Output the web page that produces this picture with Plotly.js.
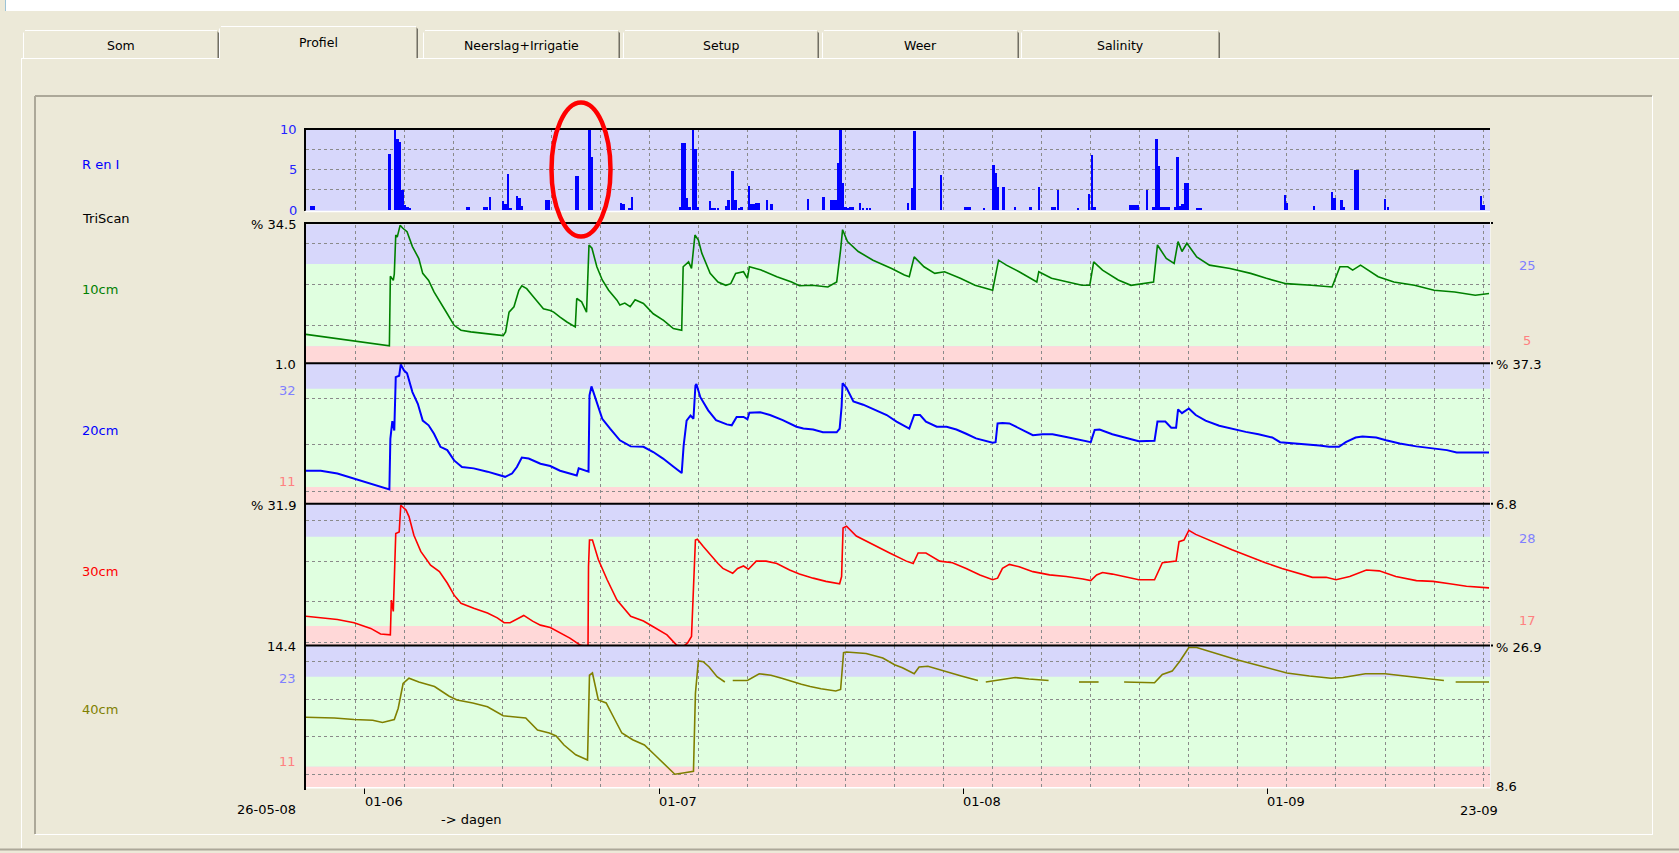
<!DOCTYPE html>
<html>
<head>
<meta charset="utf-8">
<script src="https://cdn.plot.ly/plotly-3.0.1.min.js"></script>
<style>
html,body{margin:0;padding:0;background:#ece9d8;overflow:hidden;}
#chart{width:1679px;height:853px;}
</style>
</head>
<body>
<div id="chart"></div>
<script>
// ================= DATA =================
const startDate = '2008-05-26';
const monthTicks = ['2008-06-01', '2008-07-01', '2008-08-01', '2008-09-01'];
const monthLabels = ['01-06', '01-07', '01-08', '01-09'];
const startLabel = '26-05-08';
const endLabel = '23-09';
const xAxisTitle = '-> dagen';
const tabNames = ['Som', 'Profiel', 'Neerslag+Irrigatie', 'Setup', 'Weer', 'Salinity'];

const rainTitle = 'R en I';
const triscanTitle = 'TriScan';
const rainTickVals = [0, 5, 10];
const rainTickText = ['0', '5', '10'];

// rain + irrigation: day offset from 26-05-08, amount (mm)
const rainDays = [
  0.5, 0.75,
  8.5,
  9.1, 9.35, 9.6, 9.85, 10.1, 10.35, 10.6,
  16.4, 16.6,
  18.2, 18.45, 18.75,
  20.1, 20.35, 20.6, 20.85,
  21.5, 21.75, 22.0,
  24.5, 24.75,
  27.5, 27.75,
  28.9, 29.15,
  32.1, 32.35,
  33.0, 33.25,
  38.1, 38.35, 38.6, 38.85, 39.1, 39.45, 39.7, 39.95,
  41.2, 41.45, 41.7, 42.0,
  42.8, 43.05, 43.5, 43.8,
  44.2, 44.4,
  45.15, 45.4, 45.65, 45.9, 46.15,
  47.0, 47.45,
  51.15,
  52.75,
  53.5, 53.75, 54.0, 54.25, 54.5, 54.75, 55.0, 55.25, 55.5, 55.75,
  56.45, 56.8,
  57.2, 57.5,
  61.35, 61.75, 62.05,
  64.75,
  67.2, 67.45, 67.7,
  69.1,
  70.1, 70.3, 70.55,
  71.1,
  72.3,
  73.85,
  74.75,
  76.1, 76.35, 76.65,
  78.7,
  79.8, 80.15, 80.4,
  84.0, 84.25, 84.5, 84.75,
  85.75,
  86.4, 86.7, 86.95, 87.2, 87.45, 87.7, 87.95,
  88.6, 88.85, 89.1, 89.35, 89.6, 89.85,
  90.9, 91.2,
  99.8, 100.0,
  102.75,
  104.6, 104.85,
  105.55, 105.75,
  107.0, 107.2,
  110.0, 110.3,
  119.8, 120.05
];
const rainMm = [
  0.5, 0.5,
  7.0,
  10, 8.8, 8.5, 2.5, 0.6, 0.4, 0.3,
  0.4, 0.4,
  0.4, 0.4, 1.6,
  1.1, 0.8, 4.5, 0.3,
  1.7, 1.5, 0.5,
  1.3, 1.3,
  4.2, 4.2,
  10, 6.6,
  0.9, 0.7,
  0.2, 1.6,
  0.4, 8.3, 8.3, 1.5, 0.4, 10, 7.6, 0.4,
  1.15, 0.3, 0.3, 0.3,
  0.5, 1.2, 4.9, 1.2,
  0.3, 0.4,
  2.95, 0.7, 0.7, 0.9, 0.9,
  1.2, 0.7,
  1.4,
  1.6,
  1.3, 1.3, 1.3, 5.8, 10, 3.3, 0.4, 0.3, 0.4, 0.4,
  0.9, 0.3,
  0.3, 0.3,
  0.9, 2.75, 9.8,
  4.3,
  0.4, 0.4, 0.4,
  0.3,
  5.6, 4.6, 2.9,
  2.9,
  0.4,
  0.4,
  2.9,
  0.4, 0.4, 2.5,
  0.3,
  2.0, 6.8, 0.4,
  0.6, 0.6, 0.6, 0.6,
  2.5,
  0.4, 8.8, 5.5, 0.4, 0.4, 0.4, 0.4,
  0.4, 6.6, 0.5, 0.7, 3.4, 3.4,
  0.3, 0.3,
  1.9, 0.9,
  0.5,
  2.3, 1.5,
  1.3, 0.4,
  5.0, 5.0,
  1.4, 0.4,
  1.7, 0.6
];

// soil moisture (%) per depth: [day offset, value]
const s10 = [[0,7.9],[4,6.6],[8.5,5.1],[8.6,22.0],[8.9,21.0],[9.0,22.5],[9.15,32.0],[9.3,31.5],[9.6,34.4],[9.85,33.7],[10.3,32.8],[10.85,29.2],[11.5,26.3],[11.9,22.7],[12.5,21.0],[13.05,18.2],[13.7,15.8],[14.4,12.9],[15.1,10.1],[15.8,8.9],[16.8,8.5],[18.5,8.0],[20.1,7.6],[20.35,8.5],[20.7,13.3],[21.2,14.6],[21.7,18.6],[22.0,19.7],[22.5,19.0],[23.05,17.4],[23.7,15.4],[24.2,14.1],[24.9,13.7],[25.25,13.3],[25.9,12.1],[26.6,10.9],[27.45,9.7],[27.6,16.6],[28.1,15.8],[28.6,13.3],[28.85,29.6],[29.15,28.8],[29.65,24.3],[30.2,21.1],[30.85,18.6],[31.7,16.2],[32.0,15.0],[32.5,15.5],[33.05,14.6],[33.55,16.3],[34.4,15.4],[35.4,12.9],[36.45,11.3],[37.45,9.3],[38.3,8.9],[38.45,24.3],[39.0,25.5],[39.3,23.9],[39.65,32.0],[40.0,30.8],[40.35,27.6],[41.2,22.7],[42.0,20.6],[42.8,19.8],[43.3,20.2],[43.8,22.7],[44.6,23.1],[45.0,21.5],[45.2,24.3],[46.4,23.5],[48.0,21.9],[49.5,20.6],[50.3,19.7],[51.6,19.8],[53.2,19.4],[54.1,20.6],[54.5,28.4],[54.7,33.3],[55.2,30.4],[56.3,28.0],[57.8,25.9],[59.7,23.9],[61.0,22.3],[61.5,21.9],[62.0,26.7],[63.0,24.3],[64.1,22.7],[65.1,23.1],[66.7,21.5],[68.2,19.8],[70.0,18.6],[70.6,25.9],[71.4,24.7],[72.7,23.1],[74.5,20.6],[74.7,23.1],[76.0,21.5],[77.6,20.6],[79.1,19.8],[79.9,19.8],[80.3,25.5],[81.2,23.5],[82.8,21.1],[84.1,19.8],[85.4,20.2],[86.4,20.6],[86.8,29.6],[87.7,26.3],[88.5,25.1],[88.9,30.4],[89.3,28.0],[89.8,30.0],[90.8,26.7],[92.1,24.7],[94.2,23.9],[96.3,22.7],[97.9,21.5],[99.9,20.2],[102.5,19.8],[104.6,19.4],[105.4,24.3],[106.2,24.3],[106.7,23.5],[107.5,24.7],[109.3,21.9],[110.9,20.6],[113.0,19.8],[115.0,18.6],[117.1,18.2],[119.2,17.4],[120.6,17.8]];

const s20 = [[0,14.5],[1.5,14.5],[3.2,13.9],[4.9,12.8],[6.6,11.8],[8.5,10.5],[8.6,21.3],[8.8,25.1],[9.0,23.1],[9.15,34.5],[9.5,34.8],[9.66,37.2],[10.0,35.9],[10.3,35.3],[10.85,31.3],[11.4,28.8],[11.9,25.2],[12.5,24.2],[13.05,22.4],[13.7,19.6],[14.4,18.9],[15.1,16.7],[15.9,15.3],[17.1,15.0],[18.5,14.3],[19.8,13.5],[20.3,13.2],[21.0,13.9],[21.5,15.3],[22.0,17.3],[22.7,17.1],[23.9,16.0],[24.9,15.5],[25.9,14.5],[26.8,13.9],[27.6,13.5],[27.8,15.0],[28.8,14.3],[28.9,30.6],[29.1,32.5],[29.3,31.3],[30.2,25.6],[31.0,23.5],[32.0,21.0],[33.1,19.7],[34.4,19.6],[35.4,18.5],[36.4,17.1],[37.5,15.3],[38.3,14.0],[38.5,19.9],[38.8,25.2],[39.2,26.3],[39.5,25.6],[39.7,32.7],[39.8,33.0],[40.2,30.2],[41.0,27.4],[41.8,25.3],[42.9,24.4],[43.4,24.2],[43.9,26.0],[44.6,26.0],[45.0,25.5],[45.2,26.9],[46.3,27.0],[47.3,26.4],[48.6,25.3],[50.0,23.9],[50.7,23.5],[51.7,23.3],[52.7,22.7],[54.1,22.7],[54.4,23.5],[54.6,28.2],[54.7,33.2],[55.1,32.2],[55.8,29.3],[56.8,28.6],[58.1,27.5],[59.2,26.4],[60.2,25.0],[60.9,24.2],[61.5,23.5],[62.0,26.4],[62.6,26.4],[63.2,25.0],[64.3,23.9],[65.3,23.9],[66.3,23.3],[67.3,22.4],[68.3,21.4],[70.0,20.5],[70.3,20.6],[70.5,24.6],[71.0,24.7],[71.7,24.6],[72.7,23.5],[74.1,22.1],[75.1,22.3],[76.1,22.3],[77.5,21.7],[78.8,21.2],[80.0,20.6],[80.4,23.2],[80.9,23.3],[82.2,22.3],[83.6,21.6],[84.9,20.8],[86.5,20.9],[86.8,25.0],[87.6,25.0],[88.2,23.7],[88.7,23.7],[88.9,27.6],[89.3,26.8],[90.0,27.8],[90.7,26.4],[91.7,25.2],[93.1,24.1],[94.4,23.4],[95.8,22.8],[97.1,22.3],[98.5,21.6],[99.3,20.6],[100.5,20.4],[102.2,20.0],[103.3,19.9],[104.3,19.6],[105.3,19.6],[106.0,20.6],[107.0,21.6],[107.7,21.8],[109.1,21.6],[110.1,21.0],[111.5,20.3],[113.2,19.7],[114.9,19.2],[116.3,18.9],[117.3,18.4],[119.0,18.4],[120.6,18.4]];

const s30 = [[0,18.2],[1.5,18.05],[3.2,17.8],[4.9,17.4],[5.6,17.1],[6.6,16.7],[7.6,16.0],[8.6,15.9],[8.7,20.2],[8.9,18.8],[9.15,28.4],[9.5,28.6],[9.66,31.9],[10.2,31.3],[10.5,30.5],[11.0,28.2],[11.7,26.2],[12.7,24.5],[13.6,23.7],[14.4,22.3],[15.1,20.8],[15.8,19.8],[17.1,19.2],[18.5,18.6],[19.5,18.0],[20.2,17.4],[20.8,17.4],[21.5,17.8],[22.2,18.3],[23.1,17.6],[23.9,17.1],[24.9,16.8],[25.9,16.1],[26.9,15.5],[28.0,14.6],[28.75,14.5],[28.8,24.3],[28.9,27.6],[29.2,27.6],[29.8,25.2],[30.7,22.7],[31.7,20.2],[33.1,18.2],[34.4,17.6],[35.4,16.9],[36.8,15.9],[37.8,14.6],[38.5,14.5],[38.9,14.9],[39.3,15.7],[39.7,27.6],[39.9,27.7],[40.5,26.8],[41.2,25.8],[42.0,24.7],[42.5,24.1],[43.5,23.5],[44.0,24.1],[44.6,24.4],[45.1,24.0],[45.9,25.0],[46.9,25.0],[48.0,24.7],[49.3,23.9],[50.3,23.4],[51.7,22.9],[53.0,22.5],[54.4,22.2],[54.6,23.1],[54.75,29.1],[55.1,29.3],[56.1,28.1],[57.8,27.0],[59.5,26.0],[61.2,25.0],[61.9,24.7],[62.4,26.0],[63.2,26.0],[64.6,25.0],[65.9,24.8],[67.3,24.1],[68.7,23.3],[70.0,22.7],[70.5,22.9],[71.0,24.1],[71.7,24.6],[72.7,24.3],[74.1,23.7],[75.8,23.3],[77.5,23.1],[79.2,22.8],[80.0,22.6],[80.6,23.3],[81.2,23.6],[82.2,23.4],[83.6,23.0],[84.9,22.7],[86.5,22.7],[87.3,24.8],[88.7,25.0],[89.0,27.4],[89.5,27.6],[90.0,28.8],[90.7,28.3],[92.4,27.4],[94.4,26.4],[96.1,25.6],[97.8,24.8],[99.5,24.1],[101.2,23.5],[102.6,23.0],[104.0,23.0],[105.0,22.7],[106.4,23.1],[108.1,23.9],[109.4,23.8],[111.1,23.1],[113.2,22.6],[114.9,22.5],[116.6,22.2],[118.3,21.9],[120.6,21.7]];

// null = gap in the 40cm record
const s40 = [[0,17.6],[2.9,17.5],[4.9,17.3],[6.8,17.2],[7.8,16.9],[9.0,17.3],[9.4,18.8],[9.9,22.1],[10.5,22.8],[11.5,22.3],[13.1,21.7],[14.6,20.4],[15.4,19.9],[17.0,19.5],[18.5,19.0],[20.1,17.8],[21.6,17.6],[22.4,17.5],[23.6,15.9],[24.8,15.5],[25.5,15.1],[26.3,13.9],[27.5,12.6],[28.7,11.9],[28.9,23.2],[29.2,23.5],[29.8,19.9],[30.6,19.5],[31.4,17.5],[32.2,15.5],[33.3,14.6],[34.5,13.9],[35.7,12.4],[36.6,11.2],[37.6,10.0],[38.6,10.2],[39.5,10.4],[39.7,20.8],[40.0,25.1],[40.5,25.0],[41.1,24.3],[41.9,23.0],[42.7,22.3],[43.1,null],[43.5,22.5],[45.0,22.5],[46.2,23.4],[47.4,23.2],[48.5,22.8],[49.7,22.3],[50.5,22.0],[51.4,21.7],[52.5,21.4],[54.0,21.1],[54.5,21.3],[54.8,26.2],[55.1,26.3],[57.1,26.1],[58.8,25.5],[60.0,24.6],[60.8,24.2],[62.0,23.4],[62.5,24.3],[63.4,24.4],[65.1,23.7],[66.8,23.1],[68.5,22.5],[68.9,null],[69.3,22.3],[71.1,22.6],[72.3,22.9],[73.7,22.7],[75.7,22.5],[77.0,null],[78.8,22.3],[80.8,22.3],[82.0,null],[83.4,22.3],[86.5,22.2],[87.3,23.3],[88.3,23.75],[89.1,25.1],[89.7,26.2],[90.0,26.9],[90.8,26.9],[92.5,26.2],[94.8,25.3],[97.7,24.3],[100.0,23.5],[102.3,23.1],[104.5,22.8],[105.7,22.9],[108.0,23.4],[110.0,23.4],[112.0,23.1],[113.7,22.9],[116.0,22.5],[116.6,null],[117.2,22.3],[120.6,22.3]];

const depthNames = ['10cm', '20cm', '30cm', '40cm'];
const rangeTopText = ['% 34.5', '% 37.3', '% 31.9', '% 26.9'];
const rangeBotText = ['1.0', '6.8', '14.4', '8.6'];
const wetLimit = [25, 32, 28, 23];
const dryLimit = [5, 11, 17, 11];
const yRange = [[0.95, 34.56], [7.5, 37.4], [14.65, 32.05], [8.3, 27.1]];
const yGridStep = [10, 10, 5, 5];

// ================= STYLE / LAYOUT =================
const W = 1679, H = 853;
const FONT = '"DejaVu Sans", sans-serif';
const BG = '#ece9d8', LAV = '#d7d7fb', GREEN = '#e0ffe0', PINK = '#ffd8d8';
const GRID = '#8a8a8a';
const lineColors = ['#008000', '#0000ff', '#ff0000', '#808000'];
const fx = p => p / W, fy = p => 1 - p / H;
const DAY = 86400000;
const base = Date.parse(startDate + 'T00:00:00Z');
const toDate = d => new Date(base + d * DAY).toISOString().replace('T', ' ').slice(0, 19);
const xRange = [toDate(0), toDate(120.7)];

const PX_L = 306, PX_R = 1490;
const rainTop = 129, rainBot = 211;
const panelTop = [224.5, 363.5, 504, 646];
const panelBot = [363, 503.5, 645, 787];
const sepY = [223, 363.3, 503.8, 645.5];
const series = [s10, s20, s30, s40];

const traces = [];
traces.push({
  type: 'bar', x: rainDays.map(toDate), y: rainMm, width: 0.25 * DAY,
  marker: { color: '#0000ff', line: { width: 0 } }, xaxis: 'x', yaxis: 'y', hoverinfo: 'skip'
});
series.forEach((s, i) => {
  traces.push({
    type: 'scatter', mode: 'lines',
    x: s.map(p => toDate(p[0])), y: s.map(p => p[1]),
    connectgaps: false,
    line: { color: lineColors[i], width: i === 1 ? 2 : 1.6 },
    xaxis: 'x' + (i + 2), yaxis: 'y' + (i + 2), hoverinfo: 'skip'
  });
});
traces.push({ type: 'scatter', mode: 'markers', x: [monthTicks[0]], y: [null], xaxis: 'x6', yaxis: 'y5', hoverinfo: 'skip' });

const gridCommon = {
  showgrid: true, gridcolor: GRID, gridwidth: 1, griddash: '3px,3px',
  zeroline: false, showline: false, ticks: '', showticklabels: false, fixedrange: true
};
const layout = {
  width: W, height: H, margin: { l: 0, r: 0, t: 0, b: 0, pad: 0 },
  paper_bgcolor: BG, plot_bgcolor: LAV, showlegend: false,
  font: { family: FONT, size: 13, color: '#000' },
  bargap: 0, shapes: [], annotations: []
};
for (let k = 1; k <= 5; k++) {
  const sfx = k === 1 ? '' : String(k);
  layout['xaxis' + sfx] = Object.assign({}, gridCommon, {
    domain: [fx(PX_L), fx(PX_R)], type: 'date', range: xRange,
    tickmode: 'linear', tick0: toDate(5), dtick: 5 * DAY, anchor: 'y' + sfx
  });
}
layout.xaxis6 = {
  type: 'date', range: xRange, overlaying: 'x5', anchor: 'y5', domain: [fx(PX_L), fx(PX_R)],
  tickmode: 'array', tickvals: monthTicks, ticks: 'outside', ticklen: 6, tickwidth: 1, tickcolor: '#000',
  showticklabels: false, showgrid: false, zeroline: false, showline: false, fixedrange: true
};
layout.yaxis = Object.assign({}, gridCommon, {
  domain: [fy(rainBot), fy(rainTop)], range: [-0.12, 10.06],
  tickmode: 'array', tickvals: [2.5, 5, 7.5], anchor: 'x'
});
for (let i = 0; i < 4; i++) {
  layout['yaxis' + (i + 2)] = Object.assign({}, gridCommon, {
    domain: [fy(panelBot[i]), fy(panelTop[i])], range: yRange[i],
    tickmode: 'linear', tick0: 0, dtick: yGridStep[i], anchor: 'x' + (i + 2)
  });
}

const S = layout.shapes, A = layout.annotations;
function hline(x0, x1, y, color, w, layer) {
  S.push({ type: 'line', xref: 'paper', yref: 'paper', x0: fx(x0), x1: fx(x1), y0: fy(y), y1: fy(y), line: { color: color, width: w }, layer: layer || 'above' });
}
function vline(x, y0, y1, color, w, layer) {
  S.push({ type: 'line', xref: 'paper', yref: 'paper', x0: fx(x), x1: fx(x), y0: fy(y0), y1: fy(y1), line: { color: color, width: w }, layer: layer || 'above' });
}
function rect(x0, y0, x1, y1, fill, layer) {
  S.push({ type: 'rect', xref: 'paper', yref: 'paper', x0: fx(x0), x1: fx(x1), y0: fy(y1), y1: fy(y0), fillcolor: fill, line: { width: 0 }, layer: layer || 'below' });
}
function txt(text, x, y, o) {
  A.push(Object.assign({
    text: text, x: fx(x), y: fy(y), xref: 'paper', yref: 'paper', showarrow: false,
    xanchor: 'left', yanchor: 'middle', font: { family: FONT, size: 13, color: '#000' }
  }, o || {}));
}

// ---- window chrome ----
rect(6, 0, W, 11, '#ffffff');
vline(5.5, 0, 11, '#9cc3d6', 1);
// tabs
const tabX0 = [23, 219, 423, 623, 822, 1021];
const tabX1 = [219, 418, 620, 819, 1019, 1220];
tabNames.forEach((name, i) => {
  const sel = i === 1;
  const top = sel ? 26.5 : 30.5;
  hline(tabX0[i] + 2, tabX1[i] - 2, top, '#ffffff', 1);
  vline(tabX0[i] + 0.5, top + 2, 58.5, '#ffffff', 1);
  vline(tabX1[i] - 1.5, top + 1, 58, '#aca899', 1);
  vline(tabX1[i] - 0.5, top + 2, 58, '#716f64', 1);
  txt(name, (tabX0[i] + tabX1[i]) / 2, sel ? 43 : 45, { xanchor: 'center', font: { family: FONT, size: 12.5, color: '#000' } });
});
hline(21, 219, 58.5, '#ffffff', 1);
hline(418, W, 58.5, '#ffffff', 1);
vline(21.5, 58, 848, '#ffffff', 1);
hline(0, W, 849.5, '#aca899', 2);
// inner sunken frame
hline(35, 1652, 96, '#aca899', 2);
vline(35, 96, 834, '#aca899', 2);
hline(35, 1653, 834.5, '#ffffff', 1);
vline(1652.5, 96, 835, '#ffffff', 1);

// ---- panel bands ----
for (let i = 0; i < 4; i++) {
  const xr = 'x' + (i + 2), yr = 'y' + (i + 2);
  const band = (y0, y1, c) => S.push({ type: 'rect', layer: 'below', xref: xr, yref: yr, x0: xRange[0], x1: xRange[1], y0: y0, y1: y1, fillcolor: c, line: { width: 0 } });
  band(wetLimit[i], yRange[i][1], LAV);
  band(dryLimit[i], wetLimit[i], GREEN);
  band(yRange[i][0], dryLimit[i], PINK);
}

// ---- panel borders ----
hline(305, PX_R, rainTop, '#000', 2);
vline(305, rainTop - 1, rainBot, '#000', 2);
hline(305, PX_R, rainBot + 0.5, '#ffffff', 1.5);
sepY.forEach(y => hline(305, 1493, y, '#000', 2));
vline(305, 222, 790, '#000', 2);
hline(306, PX_R, 787.8, '#ffffff', 1.5);
vline(PX_R + 0.5, 222, 788, '#f4f3ee', 1);

// ---- highlight ellipse ----
S.push({ type: 'circle', xref: 'paper', yref: 'paper', x0: fx(551.5), x1: fx(610.5), y0: fy(236.5), y1: fy(102.5), line: { color: '#ff0000', width: 4.5 }, layer: 'above' });

// ---- labels ----
txt(rainTitle, 80, 164, { font: { family: FONT, size: 13, color: '#0000ff' } });
txt(triscanTitle, 80, 218);
const nameY = [289, 430, 571, 709];
depthNames.forEach((n, i) => txt(n, 80, nameY[i], { font: { family: FONT, size: 13, color: lineColors[i] } }));

rainTickVals.forEach((v, i) => A.push({
  text: rainTickText[i], x: fx(299), y: v, xref: 'paper', yref: 'y', showarrow: false,
  xanchor: 'right', yanchor: 'middle', font: { family: FONT, size: 13, color: '#2424ff' }
}));

const topLabelY = [225, 364, 505, 647];
const botLabelY = [364, 504, 646, 786];
for (let i = 0; i < 4; i++) {
  const rangeLeft = (i % 2 === 0);
  const ro = rangeLeft ? { xanchor: 'right' } : { xanchor: 'left' };
  const rx = rangeLeft ? 298 : 1494;
  txt(rangeTopText[i], rx, topLabelY[i], ro);
  txt(rangeBotText[i], rx, botLabelY[i], ro);
  const tx = rangeLeft ? 1527 : 298;
  const ta = rangeLeft ? 'center' : 'right';
  const yr = 'y' + (i + 2);
  A.push({ text: String(wetLimit[i]), x: fx(tx), y: wetLimit[i], xref: 'paper', yref: yr, yshift: -1.5, showarrow: false,
    xanchor: ta, yanchor: 'middle', font: { family: FONT, size: 13, color: '#8080ff' } });
  A.push({ text: String(dryLimit[i]), x: fx(tx), y: dryLimit[i], xref: 'paper', yref: yr, yshift: 5.5, showarrow: false,
    xanchor: ta, yanchor: 'middle', font: { family: FONT, size: 13, color: '#ff8080' } });
}

monthTicks.forEach((m, i) => A.push({
  text: monthLabels[i], x: m, xref: 'x5', y: fy(801), yref: 'paper', xshift: -2, showarrow: false,
  xanchor: 'left', yanchor: 'middle', font: { family: FONT, size: 13, color: '#000' }
}));
txt(startLabel, 298, 809, { xanchor: 'right' });
txt(endLabel, 1500, 810, { xanchor: 'right' });
txt(xAxisTitle, 439, 819);

Plotly.newPlot('chart', traces, layout, { displayModeBar: false, staticPlot: true });
</script>
</body>
</html>
